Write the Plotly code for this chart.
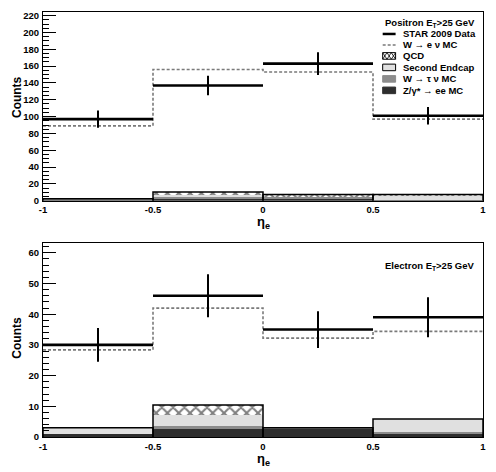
import plotly.graph_objects as go

# ---------------- data ----------------
bin_edges = [-1.0, -0.5, 0.0, 0.5, 1.0]
bin_centers = [-0.75, -0.25, 0.25, 0.75]
half_width = [0.25, 0.25, 0.25, 0.25]

# Positron (top panel)
pos_data = [97, 137, 163, 101]
pos_data_err = [10.3, 11.7, 13.5, 10.3]
pos_wenu = [89, 156, 153, 97]
pos_zee = [0.3, 2.4, 3.0, 0.2]
pos_wtau = [2.0, 2.0, 2.0, 1.0]
pos_endcap = [0.0, 2.7, 0.3, 3.9]
pos_qcd = [0.0, 3.2, 2.2, 2.4]

# Electron (bottom panel)
ele_data = [30, 46, 35, 39]
ele_data_err = [5.5, 7.0, 6.0, 6.5]
ele_wenu = [28.4, 42.0, 32.2, 34.4]
ele_zee = [1.0, 2.6, 2.35, 1.0]
ele_wtau = [0.0, 0.9, 0.7, 0.6]
ele_endcap = [2.0, 3.55, 0.0, 4.26]
ele_qcd = [0.0, 3.35, 0.0, 0.0]

pos_yticks = [0, 20, 40, 60, 80, 100, 120, 140, 160, 180, 200, 220]
ele_yticks = [0, 10, 20, 30, 40, 50, 60]
x_ticks = [-1, -0.5, 0, 0.5, 1]
x_ticklabels = ["-1", "-0.5", "0", "0.5", "1"]

# ---------------- styles ----------------
C_Z = "#2e2e2e"
C_TAU = "#8c8c8c"
C_END = "#e0e0e0"
C_WMC = "#7a7a7a"
FONT = "Liberation Sans"

W, H = 496, 472
ML, MR, MT, MB = 43, 10, 11, 35
PLOT_TOP_PX, PLOT_BOT_PX = 11.0, 436.7


def px2x(px):
    return (px - ML) / (W - ML - MR)


def py2y(py):
    return (PLOT_BOT_PX - py) / (PLOT_BOT_PX - PLOT_TOP_PX)


fig = go.Figure()


def add_panel(xa, ya, data, err, wenu, zee, wtau, endcap, qcd):
    xref = "x" if xa == 1 else "x2"
    yref = "y" if ya == 1 else "y2"
    comps = [
        (zee, dict(color=C_Z)),
        (wtau, dict(color=C_TAU)),
        (endcap, dict(color=C_END)),
        (qcd, dict(color="white", pattern=dict(shape="x", fgcolor="black",
                                               bgcolor="white", size=8,
                                               solidity=0.45))),
    ]
    for vals, mk in comps:
        mk = dict(mk)
        mk["line"] = dict(width=0)
        fig.add_trace(go.Bar(x=bin_centers, y=vals, width=0.5, marker=mk,
                             xaxis=xref, yaxis=yref, showlegend=False,
                             hoverinfo="skip"))
    # outline of the stack
    totals = [a + b + c + d for a, b, c, d in zip(zee, wtau, endcap, qcd)]
    ox, oy = [], []
    for i, t in enumerate(totals):
        ox += [bin_edges[i], bin_edges[i], bin_edges[i + 1], bin_edges[i + 1], None]
        oy += [0, t, t, 0, None]
    fig.add_trace(go.Scatter(x=ox, y=oy, mode="lines",
                             line=dict(color="black", width=1.5),
                             xaxis=xref, yaxis=yref, showlegend=False,
                             hoverinfo="skip"))
    # W -> e nu MC dashed step
    fig.add_trace(go.Scatter(x=bin_edges, y=wenu + [wenu[-1]], mode="lines",
                             line=dict(color=C_WMC, width=1.6, dash="3px,2px",
                                       shape="hv"),
                             xaxis=xref, yaxis=yref, showlegend=False,
                             hoverinfo="skip"))
    # data
    fig.add_trace(go.Scatter(x=bin_centers, y=data, mode="markers",
                             marker=dict(color="black", size=2),
                             error_x=dict(type="data", array=half_width,
                                          color="black", thickness=2.6, width=0),
                             error_y=dict(type="data", array=err,
                                          color="black", thickness=2, width=0),
                             xaxis=xref, yaxis=yref, showlegend=False,
                             hoverinfo="skip"))


add_panel(1, 1, pos_data, pos_data_err, pos_wenu, pos_zee, pos_wtau, pos_endcap, pos_qcd)
add_panel(2, 2, ele_data, ele_data_err, ele_wenu, ele_zee, ele_wtau, ele_endcap, ele_qcd)

tickfont = dict(family=FONT, size=9.5, color="black", weight="bold")

xaxis_common = dict(range=[-1, 1], tickvals=x_ticks, ticktext=x_ticklabels,
                    ticks="", showline=True, linecolor="black", linewidth=1.2,
                    mirror=True, showgrid=False, zeroline=False,
                    tickfont=tickfont, ticklabelstandoff=0)
yaxis_common = dict(showline=True, linecolor="black", linewidth=1.2,
                    mirror=True, showgrid=False, zeroline=False,
                    ticks="inside", ticklen=13, tickwidth=1, tickcolor="black",
                    tickfont=tickfont, ticklabelstandoff=1)

top_bottom = py2y(200.0)
bot_top = py2y(242.7)

fig.update_layout(
    width=W, height=H,
    margin=dict(l=ML, r=MR, t=MT, b=MB),
    plot_bgcolor="white", paper_bgcolor="white",
    barmode="stack", bargap=0,
    showlegend=False,
    xaxis=dict(domain=[0, 1], anchor="y", **xaxis_common),
    yaxis=dict(domain=[top_bottom, 1], anchor="x", range=[0, 224.4],
               tickvals=pos_yticks,
               minor=dict(dtick=5, ticks="inside", ticklen=6, tickcolor="black",
                          tickwidth=1),
               **yaxis_common),
    xaxis2=dict(domain=[0, 1], anchor="y2", **xaxis_common),
    yaxis2=dict(domain=[0, bot_top], anchor="x2", range=[0, 63.1],
                tickvals=ele_yticks,
                minor=dict(dtick=2, ticks="inside", ticklen=6, tickcolor="black",
                           tickwidth=1),
                **yaxis_common),
)

ann = []
shapes = []


def text(px, py, s, size=10, xanchor="left", angle=0):
    ann.append(dict(x=px2x(px), y=py2y(py), xref="paper", yref="paper",
                    text=s, showarrow=False, xanchor=xanchor, yanchor="middle",
                    textangle=angle,
                    font=dict(family=FONT, size=size, color="black")))


# axis titles
text(17, 96, "<b>Counts</b>", size=12, xanchor="center", angle=-90)
text(17, 337, "<b>Counts</b>", size=12, xanchor="center", angle=-90)
text(265, 222, "<b>η<sub>e</sub></b>", size=13, xanchor="center")
text(265, 459, "<b>η<sub>e</sub></b>", size=13, xanchor="center")

# bottom panel label
text(385, 265, "<b>Electron E<sub>T</sub>>25 GeV</b>", size=9.5)

# legend (top panel)
LX0, LX1, TX = 385, 398, 403
rows = [22, 33, 44, 55, 66.5, 78, 89.5]
text(385, rows[0], "<b>Positron E<sub>T</sub>>25 GeV</b>", size=9.5)
labels = ["<b>STAR 2009 Data</b>", "<b>W → e ν MC</b>", "<b>QCD</b>",
          "<b>Second Endcap</b>", "<b>W → τ ν MC</b>", "<b>Z/γ* → ee MC</b>"]
for r, lab in zip(rows[1:], labels):
    text(TX, r, lab, size=9.5)


def pshape(**kw):
    kw.setdefault("xref", "paper")
    kw.setdefault("yref", "paper")
    shapes.append(kw)


pshape(type="line", x0=px2x(LX0), x1=px2x(LX1), y0=py2y(rows[1]), y1=py2y(rows[1]),
       line=dict(color="black", width=2.5))
pshape(type="line", x0=px2x(LX0), x1=px2x(LX1), y0=py2y(rows[2]), y1=py2y(rows[2]),
       line=dict(color=C_WMC, width=1.6, dash="3px,2px"))
hb = 3.3
# QCD hatched box
pshape(type="rect", x0=px2x(LX0), x1=px2x(LX1), y0=py2y(rows[3] - hb), y1=py2y(rows[3] + hb),
       fillcolor="white", line=dict(color="black", width=1))
step = (LX1 - LX0) / 3
for k in range(3):
    xa = LX0 + k * step
    pshape(type="line", x0=px2x(xa), x1=px2x(xa + step), y0=py2y(rows[3] - hb), y1=py2y(rows[3] + hb),
           line=dict(color="black", width=0.8))
    pshape(type="line", x0=px2x(xa), x1=px2x(xa + step), y0=py2y(rows[3] + hb), y1=py2y(rows[3] - hb),
           line=dict(color="black", width=0.8))
pshape(type="rect", x0=px2x(LX0), x1=px2x(LX1), y0=py2y(rows[4] - hb), y1=py2y(rows[4] + hb),
       fillcolor=C_END, line=dict(color="black", width=1))
pshape(type="rect", x0=px2x(LX0), x1=px2x(LX1), y0=py2y(rows[5] - hb), y1=py2y(rows[5] + hb),
       fillcolor=C_TAU, line=dict(color=C_TAU, width=1))
pshape(type="rect", x0=px2x(LX0), x1=px2x(LX1), y0=py2y(rows[6] - hb), y1=py2y(rows[6] + hb),
       fillcolor=C_Z, line=dict(color=C_Z, width=1))

fig.update_layout(annotations=ann, shapes=shapes)
fig.write_html("out.html", config={"displayModeBar": False},
               post_script="document.body.style.margin='0';document.body.style.padding='0';")
